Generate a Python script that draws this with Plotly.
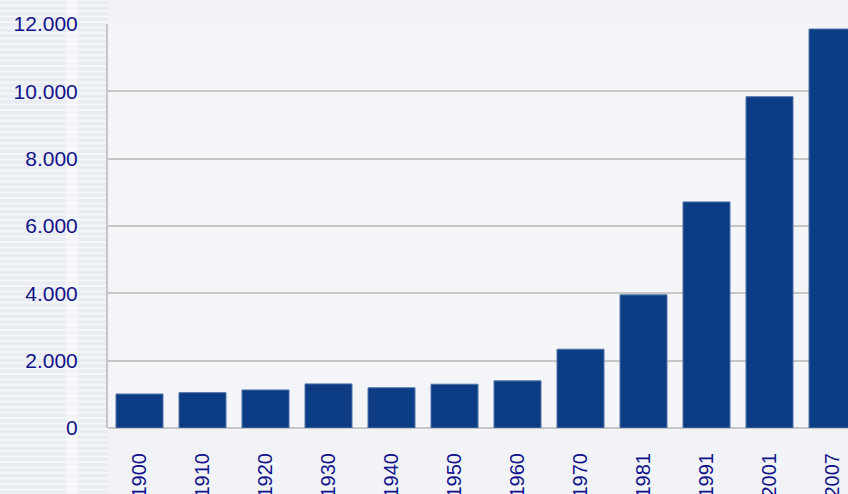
import plotly.graph_objects as go

years = ["1900", "1910", "1920", "1930", "1940", "1950", "1960", "1970", "1981", "1991", "2001", "2007"]
values = [1010, 1050, 1130, 1310, 1195, 1300, 1400, 2340, 3955, 6715, 9840, 11850]
y_ticks = [0, 2000, 4000, 6000, 8000, 10000, 12000]

fig = go.Figure()
fig.add_trace(go.Bar(
    x=years, y=values,
    marker=dict(color="#0c3d84", line=dict(color="#4e72a8", width=1)),
))

# decorative background stripes (left band horizontal)
shapes = []
shapes.append(dict(type="rect", xref="paper", yref="paper", x0=-1, x1=0, y0=-1, y1=2,
                   fillcolor="#e9edf3", line=dict(width=0), layer="below"))
yy = 0.0
while yy < 494:
    shapes.append(dict(type="line", xref="paper", yref="paper",
                       x0=-108/740, x1=0, y0=(494 - 66 - yy) / 404, y1=(494 - 66 - yy) / 404,
                       line=dict(color="rgba(255,255,255,0.6)", width=1.5), layer="below"))
    yy += 5.5
# soft light column in the left band
shapes.append(dict(type="rect", xref="paper", yref="paper", x0=-42/740, x1=-30/740, y0=-1, y1=2,
                   fillcolor="rgba(255,255,255,0.45)", line=dict(width=0), layer="below"))

fig.update_layout(
    width=848, height=494,
    margin=dict(l=108, r=0, t=24, b=66, autoexpand=False),
    paper_bgcolor="#f1f3f7",
    plot_bgcolor="#f3f5f9",
    separators=",.",
    showlegend=False,
    bargap=0.254,
    font=dict(family="Liberation Sans, Arial, sans-serif", size=21, color="#12128a"),
    shapes=shapes,
)
fig.update_xaxes(
    type="category",
    range=[-0.5, -0.5 + 740 / 63],
    tickangle=-90,
    ticklabelstandoff=20,
    automargin=False,
    showgrid=False,
    showline=False,
    ticks="",
    tickfont=dict(size=20, color="#12128a"),
)
fig.update_yaxes(
    range=[0, 12000],
    tickvals=y_ticks,
    tickformat=",d",
    automargin=False,
    showgrid=True, gridcolor="#c6c6c6", gridwidth=2,
    zeroline=True, zerolinecolor="#c6c6c6", zerolinewidth=2,
    showline=True, linecolor="#c6c6c6", linewidth=2,
    ticks="",
    ticklabelstandoff=24,
    tickfont=dict(size=21, color="#12128a"),
)
fig.write_html("out.html", config={"displayModeBar": False},
               post_script="document.body.style.margin='0';")
